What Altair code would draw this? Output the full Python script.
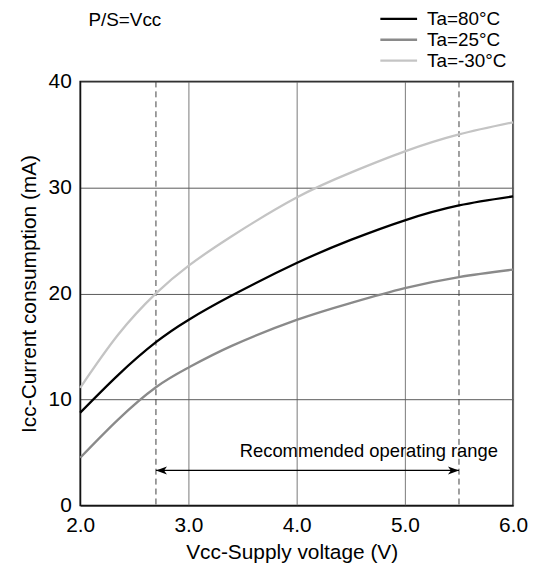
import altair as alt
import pandas as pd

# ---- data ----
volts = [2.0, 2.35, 2.7, 3.0, 3.4, 4.0, 4.5, 5.0, 5.5, 6.0]
ta_80 = [8.75, 12.3, 15.4, 17.5, 19.8, 22.87, 25.05, 26.9, 28.3, 29.15]
ta_25 = [4.5, 8.1, 11.15, 13.0, 15.05, 17.5, 19.1, 20.5, 21.55, 22.25]
ta_m30 = [11.1, 16.1, 20.0, 22.6, 25.4, 29.05, 31.4, 33.4, 35.0, 36.15]
series_names = ["Ta=80°C", "Ta=25°C", "Ta=-30°C"]
series_colors = ["#000000", "#8a8a8a", "#c4c4c4"]

x_ticks = [2.0, 3.0, 4.0, 5.0, 6.0]
y_ticks = [0, 10, 20, 30, 40]
range_bounds = [2.7, 5.5]
arrow_level = [3.3]
note_text = ["Recommended operating range"]
note_pos = [5.86, 4.6]
cond_text = ["P/S=Vcc"]

FONT = "Liberation Sans"

rows = []
for name, vals in zip(series_names, [ta_80, ta_25, ta_m30]):
    for v, i in zip(volts, vals):
        rows.append({"V": v, "I": i, "Ta": name})
df = pd.DataFrame(rows)

xs = alt.Scale(domain=[2, 6], nice=False, zero=False)
ys = alt.Scale(domain=[0, 40], nice=False)

x_axis = alt.Axis(values=x_ticks, format=".1f", title="Vcc-Supply voltage  (V)",
                  ticks=False, labelPadding=9, labelFontSize=21, titleFontSize=21,
                  labelFlush=False, labelOverlap=False,
                  titleFontWeight="normal", titleBaseline="alphabetic", titleY=53,
                  titleX=213, titleAnchor="start", titleAlign="center",
                  grid=True, gridColor="#7a7a7a", gridWidth=1, domainColor="#000000",
                  labelColor="#000000", titleColor="#000000")
y_axis = alt.Axis(values=y_ticks, title="Icc-Current consumption (mA)",
                  ticks=False, labelPadding=9, labelFontSize=21, titleFontSize=21,
                  labelFlush=False, labelOverlap=False,
                  titleFontWeight="normal", titleBaseline="alphabetic", titleX=-45,
                  titleY=213.5, titleAlign="center", titleAngle=270,
                  grid=True, gridColor="#5a5a5a", gridWidth=1, domainColor="#000000",
                  labelColor="#000000", titleColor="#000000")

lines = alt.Chart(df).mark_line(strokeWidth=2.3, interpolate="natural").encode(
    x=alt.X("V:Q", scale=xs, axis=x_axis),
    y=alt.Y("I:Q", scale=ys, axis=y_axis),
    color=alt.Color("Ta:N", sort=series_names,
                    scale=alt.Scale(domain=series_names, range=series_colors),
                    legend=None),
    detail="Ta:N",
)

# hand-built legend (rows 21 px apart, 37 px stroke samples)
legend_layers = []
for k, (name, col) in enumerate(zip(series_names, series_colors)):
    ldf = pd.DataFrame({"t": [name]})
    row_y = -63 + 21 * k
    legend_layers.append(
        alt.Chart(ldf).mark_rule(color=col, strokeWidth=2.4).encode(
            x=alt.value(302.3), x2=alt.value(339.3), y=alt.value(row_y)
        )
    )
    legend_layers.append(
        alt.Chart(ldf).mark_text(align="left", baseline="middle", fontSize=19,
                                 font=FONT, color="#000000").encode(
            x=alt.value(349.3), y=alt.value(row_y + 0.5), text="t:N"
        )
    )

range_df = pd.DataFrame({"V": range_bounds})
dashed = alt.Chart(range_df).mark_rule(strokeDash=[6, 4], color="#404040", strokeWidth=1).encode(
    x=alt.X("V:Q", scale=xs)
)

arrow_df = pd.DataFrame({"V": [range_bounds[0]], "V2": [range_bounds[1]], "I": arrow_level})
arrow_line = alt.Chart(arrow_df).mark_rule(color="#000000", strokeWidth=1.3).encode(
    x=alt.X("V:Q", scale=xs), x2="V2:Q", y=alt.Y("I:Q", scale=ys)
)
head_df = pd.DataFrame({"V": range_bounds, "I": arrow_level * 2,
                        "dir": ["left", "right"]})
left_head = alt.Chart(head_df[head_df.dir == "left"]).mark_point(
    shape="M 0 0 L 1.5 -0.55 L 1.1 0 L 1.5 0.55 Z", filled=True, color="#000000",
    size=220, opacity=1
).encode(x=alt.X("V:Q", scale=xs), y=alt.Y("I:Q", scale=ys))
right_head = alt.Chart(head_df[head_df.dir == "right"]).mark_point(
    shape="M 0 0 L -1.5 -0.55 L -1.1 0 L -1.5 0.55 Z", filled=True, color="#000000",
    size=220, opacity=1
).encode(x=alt.X("V:Q", scale=xs), y=alt.Y("I:Q", scale=ys))

note_df = pd.DataFrame({"V": [note_pos[0]], "I": [note_pos[1]], "t": note_text})
note = alt.Chart(note_df).mark_text(align="right", baseline="alphabetic", fontSize=18.5,
                                    font=FONT, color="#000000").encode(
    x=alt.X("V:Q", scale=xs), y=alt.Y("I:Q", scale=ys), text="t:N"
)

cond_df = pd.DataFrame({"t": cond_text})
cond = alt.Chart(cond_df).mark_text(align="left", baseline="alphabetic", fontSize=19,
                                    font=FONT, color="#000000").encode(
    x=alt.value(8.3), y=alt.value(-56), text="t:N"
)

chart = alt.layer(dashed, lines, arrow_line, left_head, right_head, note, cond,
                  *legend_layers).properties(
    width=436, height=427,
    autosize=alt.AutoSizeParams(type="none"),
    padding={"left": 72.7, "top": 72, "right": 15, "bottom": 57},
).configure(
    font=FONT,
).configure_view(
    stroke="#000000", strokeWidth=1.5
).configure_axis(
    labelFont=FONT, titleFont=FONT
)

chart.save("out.html", embed_options={"renderer": "svg", "actions": False})
